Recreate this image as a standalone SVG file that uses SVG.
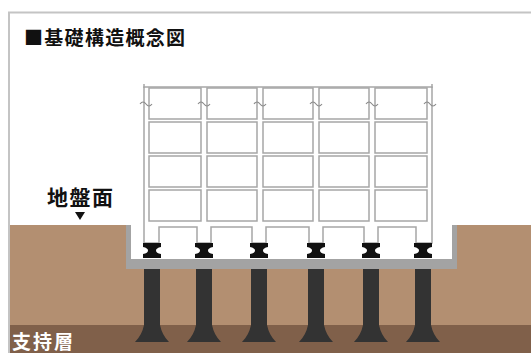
<svg xmlns="http://www.w3.org/2000/svg" width="531" height="353" viewBox="0 0 531 353">
  <style>
    .cjk { font-family: "Noto Sans CJK JP", "Noto Sans CJK SC", sans-serif; font-weight: bold; }
    .frame { fill: #ffffff; stroke: #a6a6a6; stroke-width: 1.5; }
    .cell { fill: #ffffff; stroke: #a6a6a6; stroke-width: 1.5; }
    .brk { fill: none; stroke: #8c8c8c; stroke-width: 1.2; }
    .iso { fill: #111111; }
    .pile { fill: #333333; }
  </style>
  <defs>
    <!-- seismic isolator bearing, origin at its centre top -->
    <path id="isolator" class="iso" d="M-9,0 H9 V4 Q4,5 4,7.5 Q4,10 9,11 V15 H-9 V11 Q-4,10 -4,7.5 Q-4,5 -9,4 Z"/>
    <!-- pile with flared toe, origin at its centre top -->
    <g id="pileShape">
      <rect class="pile" x="-8" y="0" width="16" height="58"/>
      <path class="pile" d="M-8,56 H8 Q10,66 17,73 H-17 Q-10,66 -8,56 Z"/>
    </g>
  </defs>

  <!-- background and outer frame -->
  <rect x="0" y="0" width="531" height="353" fill="#ffffff"/>
  <rect x="9" y="12.5" width="540" height="360" fill="none" stroke="#c4c4c4" stroke-width="2"/>

  <!-- ground layers -->
  <g id="ground">
    <rect x="10" y="225" width="521" height="100" fill="#b38f71"/>
    <rect x="10" y="325" width="521" height="28" fill="#80604a"/>
  </g>

  <!-- excavation pit with foundation slab -->
  <g id="pit">
    <rect x="131" y="225" width="321" height="34" fill="#ffffff"/>
    <path d="M126,225 H131 V259 H452 V225 H457 V269 H126 Z" fill="#a3a3a3"/>
  </g>

  <!-- piles -->
  <g id="piles">
    <use href="#pileShape" x="152" y="269"/>
    <use href="#pileShape" x="204" y="269"/>
    <use href="#pileShape" x="259" y="269"/>
    <use href="#pileShape" x="316" y="269"/>
    <use href="#pileShape" x="371" y="269"/>
    <use href="#pileShape" x="423" y="269"/>
  </g>

  <!-- building frame -->
  <g id="building">
    <path class="frame" d="M144,87 V243 H159 V227 H197 V243 H211 V227 H252 V243 H266 V227 H309 V243 H323 V227 H364 V243 H378 V227 H416 V243 H432 V87 Z"/>
    <line x1="144" y1="84" x2="144" y2="88" stroke="#a6a6a6" stroke-width="1.5"/>
    <line x1="432" y1="84" x2="432" y2="88" stroke="#a6a6a6" stroke-width="1.5"/>
    <g id="cells">
      <rect class="cell" x="149" y="88" width="52" height="31"/>
      <rect class="cell" x="207" y="88" width="50" height="31"/>
      <rect class="cell" x="263" y="88" width="50" height="31"/>
      <rect class="cell" x="319" y="88" width="50" height="31"/>
      <rect class="cell" x="375" y="88" width="52" height="31"/>

      <rect class="cell" x="149" y="122" width="52" height="31"/>
      <rect class="cell" x="207" y="122" width="50" height="31"/>
      <rect class="cell" x="263" y="122" width="50" height="31"/>
      <rect class="cell" x="319" y="122" width="50" height="31"/>
      <rect class="cell" x="375" y="122" width="52" height="31"/>

      <rect class="cell" x="149" y="156" width="52" height="31"/>
      <rect class="cell" x="207" y="156" width="50" height="31"/>
      <rect class="cell" x="263" y="156" width="50" height="31"/>
      <rect class="cell" x="319" y="156" width="50" height="31"/>
      <rect class="cell" x="375" y="156" width="52" height="31"/>

      <rect class="cell" x="149" y="190" width="52" height="31"/>
      <rect class="cell" x="207" y="190" width="50" height="31"/>
      <rect class="cell" x="263" y="190" width="50" height="31"/>
      <rect class="cell" x="319" y="190" width="50" height="31"/>
      <rect class="cell" x="375" y="190" width="52" height="31"/>
    </g>
    <!-- break marks on the columns -->
    <g id="breaks">
      <path class="brk" d="M140,104 q3,-4 6,0 t6,0"/>
      <path class="brk" d="M198,104 q3,-4 6,0 t6,0"/>
      <path class="brk" d="M254,104 q3,-4 6,0 t6,0"/>
      <path class="brk" d="M310,104 q3,-4 6,0 t6,0"/>
      <path class="brk" d="M366,104 q3,-4 6,0 t6,0"/>
      <path class="brk" d="M424,104 q3,-4 6,0 t6,0"/>
    </g>
  </g>

  <!-- isolators between building and slab -->
  <g id="isolators">
    <use href="#isolator" x="152" y="243"/>
    <use href="#isolator" x="204" y="243"/>
    <use href="#isolator" x="259" y="243"/>
    <use href="#isolator" x="316" y="243"/>
    <use href="#isolator" x="371" y="243"/>
    <use href="#isolator" x="423" y="243"/>
  </g>

  <!-- labels -->
  <g id="title">
    <text class="cjk" x="24" y="45" font-size="19" letter-spacing="1.3" fill="#111111">■基礎構造概念図</text>
  </g>
  <g id="ground-level">
    <text class="cjk" x="47" y="205" font-size="21" letter-spacing="1.5" fill="#111111">地盤面</text>
    <path d="M75,212 H85 L80,220 Z" fill="#111111"/>
  </g>
  <g id="bearing-layer">
    <text class="cjk" x="12" y="349" font-size="19" letter-spacing="2" fill="#ffffff">支持層</text>
  </g>
</svg>
